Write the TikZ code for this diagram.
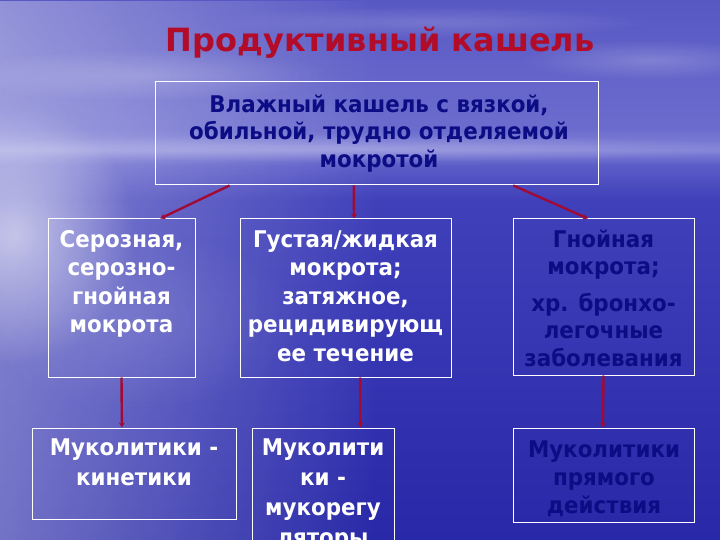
\documentclass[tikz,border=0pt]{standalone}
\usepackage{fontspec}
\setmainfont{DejaVu Sans}
\newfontfamily\bodyfont{DejaVu Sans}[FakeStretch=0.93]
\usetikzlibrary{arrows.meta,calc,fadings}
\tikzfading[name=glowfade, inner color=transparent!0, outer color=transparent!100]
\tikzfading[name=fadeRight, left color=transparent!0, right color=transparent!100]
\definecolor{bgA}{RGB}{40,40,168}
\definecolor{bgB}{RGB}{52,52,178}
\definecolor{bgC}{RGB}{64,64,186}
\definecolor{bgD}{RGB}{92,92,200}
\definecolor{bgE}{RGB}{130,130,216}
\definecolor{bgF}{RGB}{108,108,206}
\definecolor{bgG}{RGB}{88,88,196}
\pgfdeclareverticalshading{bgshade}{100bp}{color(0bp)=(bgA); color(25bp)=(bgA); color(39.8bp)=(bgB); color(56.5bp)=(bgC); color(59.7bp)=(bgD); color(61.1bp)=(bgE); color(63bp)=(bgF); color(75bp)=(bgG); color(100bp)=(bgG)}
\definecolor{titlered}{RGB}{178,12,40}
\definecolor{navytext}{RGB}{12,12,132}
\definecolor{arrowred}{RGB}{160,10,52}
\begin{document}
\begin{tikzpicture}[x=1pt,y=-1pt,
  box/.style={draw=white, line width=1pt, rectangle, inner sep=0pt},
  txt/.style={align=center, inner sep=0pt, anchor=north},
  arr/.style={draw=arrowred, line width=2.4pt, -{Stealth[length=5pt,width=6pt]}}]
\clip (0,0) rectangle (720,540);
% background
\fill[shading=bgshade] (0,0) rectangle (720,540);
% light on the left
\fill[white, opacity=0.35, path fading=fadeRight] (0,0) rectangle (380,540);
\fill[white, opacity=0.55, path fading=glowfade] (15,235) ellipse (120 and 130);
% cloud streaks
\fill[white, opacity=0.20, path fading=glowfade] (140,75) ellipse (190 and 26);
\fill[white, opacity=0.20, path fading=glowfade] (650,60) ellipse (130 and 20);
\fill[white, opacity=0.16, path fading=glowfade] (430,22) ellipse (220 and 16);
\fill[white, opacity=0.22, path fading=glowfade] (360,148) ellipse (420 and 14);
\fill[white, opacity=0.12, path fading=glowfade] (140,320) ellipse (160 and 90);

% title
\node[font=\fontsize{32}{38}\selectfont\bfseries, text=titlered, anchor=base, inner sep=0pt] (title) at (380,52) {Продуктивный кашель};

% boxes
\node[box, minimum width=443, minimum height=103] (top) at (376.5,133.5) {};
\node[box, minimum width=147, minimum height=158] (lm) at (121.5,298) {};
\node[box, minimum width=211, minimum height=158] (cm) at (345.5,298) {};
\node[box, minimum width=181, minimum height=156] (rm) at (603.5,297) {};
\node[box, minimum width=204, minimum height=91] (lb) at (134,473.5) {};
\node[box, minimum width=142, minimum height=117] (cb) at (323,486.5) {};
\node[box, minimum width=181, minimum height=94] (rb) at (603.5,475) {};

% texts
\node[txt, text=navytext, font=\bodyfont\fontsize{23}{27.5}\selectfont\bfseries] (tt) at (379,92)
  {\rule{0pt}{20pt}Влажный кашель с вязкой,\\обильной, трудно отделяемой\\мокротой};
\node[txt, text=white, font=\bodyfont\fontsize{23}{28.5}\selectfont\bfseries] (lt) at (121.5,227)
  {\rule{0pt}{20pt}Серозная,\\серозно-\\гнойная\\мокрота};
\node[txt, text=white, font=\bodyfont\fontsize{23}{28.5}\selectfont\bfseries] (ct) at (345.5,227)
  {\rule{0pt}{20pt}Густая/жидкая\\мокрота;\\затяжное,\\рецидивирующ\\ее течение};
\node[txt, text=navytext, font=\bodyfont\fontsize{23}{27.5}\selectfont\bfseries] (rt) at (603.5,227)
  {\rule{0pt}{20pt}Гнойная\\мокрота;\\[9pt]хр. бронхо-\\легочные\\заболевания};
\node[txt, text=white, font=\bodyfont\fontsize{23}{30}\selectfont\bfseries] (lbt) at (134,435)
  {\rule{0pt}{20pt}Муколитики -\\кинетики};
\node[txt, text=white, font=\bodyfont\fontsize{23}{30}\selectfont\bfseries] (cbt) at (323,435)
  {\rule{0pt}{20pt}Муколити\\ки -\\мукорегу\\ляторы};
\node[txt, text=navytext, font=\bodyfont\fontsize{23}{28}\selectfont\bfseries] (rbt) at (604,437)
  {\rule{0pt}{20pt}Муколитики\\прямого\\действия};

% arrows
\draw[arr] ($(top.south west)!0.169!(top.south east)$) -- ($(lm.north west)!0.762!(lm.north east)$);
\draw[arr] ($(top.south west)!0.449!(top.south east)$) -- ($(cm.north west)!0.540!(cm.north east)$);
\draw[arr] ($(top.south west)!0.808!(top.south east)$) -- ($(rm.north west)!0.414!(rm.north east)$);
\draw[arr] (lm.south) -- ($(lb.north west)!0.441!(lb.north east)$);
\draw[arr] ($(cm.south west)!0.569!(cm.south east)$) -- ($(cb.north west)!0.761!(cb.north east)$);
\draw[arr] (rm.south) -- ($(rb.north west)!0.497!(rb.north east)$);
\end{tikzpicture}
\end{document}
